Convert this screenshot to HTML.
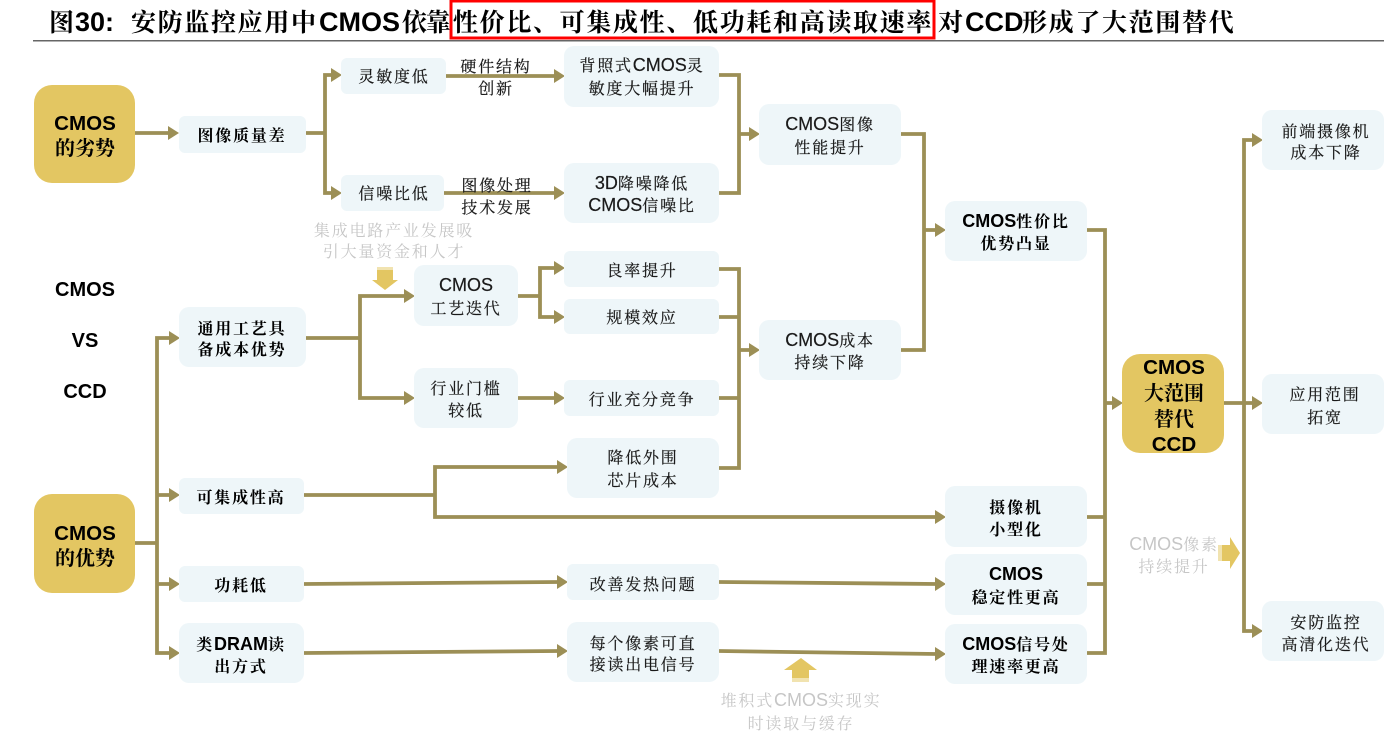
<!DOCTYPE html>
<html lang="zh"><head><meta charset="utf-8"><title>CMOS vs CCD</title>
<style>
html,body{margin:0;padding:0;background:#fff;width:1384px;height:743px;overflow:hidden}
svg{display:block}
text{font-family:"Liberation Sans","Noto Serif CJK SC",serif;fill:#1a1a1a;text-anchor:middle;font-size:16px;letter-spacing:1.8px;stroke:#1a1a1a;stroke-width:.2px}
tspan.l{font-size:18px;letter-spacing:0}
.b{font-weight:700;fill:#000;stroke:none}
.g{fill:#c6c6c6;stroke:none}
.big{font-size:20px;font-weight:700;letter-spacing:0;fill:#000;stroke:none}
.big.c{font-size:20.6px}
.ttl{font-size:25px;font-weight:700;text-anchor:start;letter-spacing:1.67px;fill:#000;stroke:none}
.ttl.l2{font-size:27px;letter-spacing:0}
.box{fill:#eef6f9}
.gold{fill:#e3c662}
.ln{fill:none;stroke:#9c8f56;stroke-width:3.8}
.ah{fill:#9c8f56}
</style></head><body>
<svg width="1384" height="743" viewBox="0 0 1384 743" xmlns="http://www.w3.org/2000/svg">
<!-- header -->
<text class="ttl" x="49" y="31">图</text>
<text class="ttl l2" x="75" y="31">30:</text>
<text class="ttl" x="131" y="31">安防监控应用中</text>
<text class="ttl l2" x="319" y="31">CMOS</text>
<text class="ttl" x="402" y="31" style="letter-spacing:-1.5px">依靠</text>
<text class="ttl" x="453" y="31">性价比、可集成性、低功耗和高读取速率</text>
<text class="ttl" x="938" y="31">对</text>
<text class="ttl l2" x="965" y="31">CCD</text>
<text class="ttl" x="1022" y="31">形成了大范围替代</text>
<rect x="451" y="1" width="483" height="37" fill="none" stroke="#f00" stroke-width="3"/>
<rect x="33" y="40" width="1351" height="1.5" fill="#666"/>

<!-- connectors -->
<g class="ln">
<path d="M135 133H171"/>
<path d="M306 133H325M333 75H325V193H333"/>
<path d="M446 76H556"/>
<path d="M444 193H556"/>
<path d="M719 75H739V193H719M739 134H751"/>
<path d="M901 134H924V350H901M924 230H937"/>
<path d="M1087 230H1105V653H1087M1087 517H1105M1087 584H1105M1105 403H1114"/>
<path d="M1224 403H1254M1254 140H1244V631H1254"/>
<path d="M135 543H157M171 338H157V653H171M157 495H171M157 584H171"/>
<path d="M306 338H360M406 296H360V398H406"/>
<path d="M518 296H540M556 268H540V317H556"/>
<path d="M518 398H556"/>
<path d="M719 269H739V468H719M719 317H739M719 398H739M739 350H751"/>
<path d="M304 495H435M559 467H435V517H937"/>
<path d="M304 584L559 582"/>
<path d="M719 582L937 584"/>
<path d="M304 653L559 651"/>
<path d="M719 651L937 654"/>
</g>
<g class="ah">
<path d="M179 133l-11-7v14z"/>
<path d="M342 75l-11-7v14z"/>
<path d="M342 193l-11-7v14z"/>
<path d="M565 76l-11-7v14z"/>
<path d="M565 193l-11-7v14z"/>
<path d="M760 134l-11-7v14z"/>
<path d="M946 230l-11-7v14z"/>
<path d="M1123 403l-11-7v14z"/>
<path d="M1263 403l-11-7v14z"/>
<path d="M1263 140l-11-7v14z"/>
<path d="M1263 631l-11-7v14z"/>
<path d="M180 338l-11-7v14z"/>
<path d="M180 495l-11-7v14z"/>
<path d="M180 584l-11-7v14z"/>
<path d="M180 653l-11-7v14z"/>
<path d="M415 296l-11-7v14z"/>
<path d="M415 398l-11-7v14z"/>
<path d="M565 268l-11-7v14z"/>
<path d="M565 317l-11-7v14z"/>
<path d="M565 398l-11-7v14z"/>
<path d="M760 350l-11-7v14z"/>
<path d="M568 467l-11-7v14z"/>
<path d="M946 517l-11-7v14z"/>
<path d="M568 582l-11-7v14z"/>
<path d="M946 584l-11-7v14z"/>
<path d="M568 651l-11-7v14z"/>
<path d="M946 654l-11-7v14z"/>
</g>

<!-- gold block arrows -->
<path class="gold" d="M377 270h16v10h5l-13 10l-13-10h5z"/>
<rect x="377" y="267" width="16" height="3" fill="#f1e3b0"/>
<path class="gold" d="M801 658l16 12h-8v8h-17v-8h-8z"/>
<rect x="792" y="678" width="17" height="4" fill="#f1e3b0"/>
<path class="gold" d="M1222 545h8v-8l10 16l-10 16v-8h-8z"/>
<rect x="1218" y="545" width="4" height="16" fill="#f1e3b0"/>

<!-- gold boxes -->
<rect class="gold" x="34" y="85" width="101" height="98" rx="18"/>
<rect class="gold" x="34" y="494" width="101" height="99" rx="18"/>
<rect class="gold" x="1122" y="354" width="102" height="99" rx="18"/>

<!-- light boxes -->
<g class="box">
<rect x="179" y="116" width="127" height="37" rx="6"/>
<rect x="341" y="58" width="105" height="36" rx="6"/>
<rect x="341" y="175" width="103" height="36" rx="6"/>
<rect x="564" y="46" width="155" height="61" rx="10"/>
<rect x="564" y="163" width="155" height="60" rx="10"/>
<rect x="759" y="104" width="142" height="61" rx="10"/>
<rect x="945" y="201" width="142" height="60" rx="10"/>
<rect x="414" y="265" width="104" height="61" rx="10"/>
<rect x="564" y="251" width="155" height="36" rx="6"/>
<rect x="564" y="299" width="155" height="35" rx="6"/>
<rect x="179" y="307" width="127" height="60" rx="10"/>
<rect x="414" y="368" width="104" height="60" rx="10"/>
<rect x="564" y="380" width="155" height="36" rx="6"/>
<rect x="759" y="320" width="142" height="60" rx="10"/>
<rect x="567" y="438" width="152" height="60" rx="10"/>
<rect x="179" y="478" width="125" height="36" rx="6"/>
<rect x="945" y="486" width="142" height="61" rx="10"/>
<rect x="179" y="566" width="125" height="36" rx="6"/>
<rect x="567" y="564" width="152" height="36" rx="6"/>
<rect x="945" y="554" width="142" height="61" rx="10"/>
<rect x="179" y="623" width="125" height="60" rx="10"/>
<rect x="567" y="622" width="152" height="60" rx="10"/>
<rect x="945" y="624" width="142" height="60" rx="10"/>
<rect x="1262" y="110" width="122" height="60" rx="10"/>
<rect x="1262" y="374" width="122" height="60" rx="10"/>
<rect x="1262" y="601" width="122" height="60" rx="10"/>
</g>

<!-- big labels -->
<text class="big c" x="85" y="130">CMOS</text>
<text class="big" x="85" y="155">的劣势</text>
<text class="big c" x="85" y="540">CMOS</text>
<text class="big" x="85" y="565">的优势</text>
<text class="big c" x="1174" y="374">CMOS</text>
<text class="big" x="1174" y="400">大范围</text>
<text class="big" x="1174" y="426">替代</text>
<text class="big c" x="1174" y="451">CCD</text>
<text class="big" x="85" y="296">CMOS</text>
<text class="big" x="85" y="347">VS</text>
<text class="big" x="85" y="398">CCD</text>

<!-- box labels -->
<text class="b" x="242" y="141">图像质量差</text>
<text x="394" y="82">灵敏度低</text>
<text x="394" y="199">信噪比低</text>
<text x="496" y="72">硬件结构</text>
<text x="496" y="94">创新</text>
<text x="497" y="191">图像处理</text>
<text x="497" y="213">技术发展</text>
<text x="642" y="71">背照式<tspan class="l">CMOS</tspan>灵</text>
<text x="642" y="94">敏度大幅提升</text>
<text x="642" y="189"><tspan class="l">3D</tspan>降噪降低</text>
<text x="642" y="211"><tspan class="l">CMOS</tspan>信噪比</text>
<text x="830" y="130"><tspan class="l">CMOS</tspan>图像</text>
<text x="830" y="153">性能提升</text>
<text class="b" x="1016" y="227"><tspan class="l">CMOS</tspan>性价比</text>
<text class="b" x="1016" y="249">优势凸显</text>
<text x="466" y="291"><tspan class="l">CMOS</tspan></text>
<text x="466" y="314">工艺迭代</text>
<text x="642" y="276">良率提升</text>
<text x="642" y="323">规模效应</text>
<text class="b" x="242" y="334">通用工艺具</text>
<text class="b" x="242" y="355">备成本优势</text>
<text x="466" y="394">行业门槛</text>
<text x="466" y="416">较低</text>
<text x="642" y="405">行业充分竞争</text>
<text x="830" y="346"><tspan class="l">CMOS</tspan>成本</text>
<text x="830" y="368">持续下降</text>
<text x="643" y="463">降低外围</text>
<text x="643" y="486">芯片成本</text>
<text class="b" x="241" y="503">可集成性高</text>
<text class="b" x="1016" y="513">摄像机</text>
<text class="b" x="1016" y="535">小型化</text>
<text class="b" x="241" y="591">功耗低</text>
<text x="643" y="590">改善发热问题</text>
<text class="b" x="1016" y="580"><tspan class="l">CMOS</tspan></text>
<text class="b" x="1016" y="603">稳定性更高</text>
<text class="b" x="241" y="650">类<tspan class="l">DRAM</tspan>读</text>
<text class="b" x="241" y="672">出方式</text>
<text x="643" y="649">每个像素可直</text>
<text x="643" y="670">接读出电信号</text>
<text class="b" x="1016" y="650"><tspan class="l">CMOS</tspan>信号处</text>
<text class="b" x="1016" y="672">理速率更高</text>
<text x="1326" y="137">前端摄像机</text>
<text x="1326" y="158">成本下降</text>
<text x="1325" y="400">应用范围</text>
<text x="1325" y="423">拓宽</text>
<text x="1326" y="628">安防监控</text>
<text x="1326" y="650">高清化迭代</text>

<!-- gray labels -->
<text class="g" x="394" y="236">集成电路产业发展吸</text>
<text class="g" x="394" y="257">引大量资金和人才</text>
<text class="g" x="1174" y="550"><tspan class="l">CMOS</tspan>像素</text>
<text class="g" x="1174" y="572">持续提升</text>
<text class="g" x="801" y="706">堆积式<tspan class="l">CMOS</tspan>实现实</text>
<text class="g" x="801" y="729">时读取与缓存</text>
</svg>
</body></html>
